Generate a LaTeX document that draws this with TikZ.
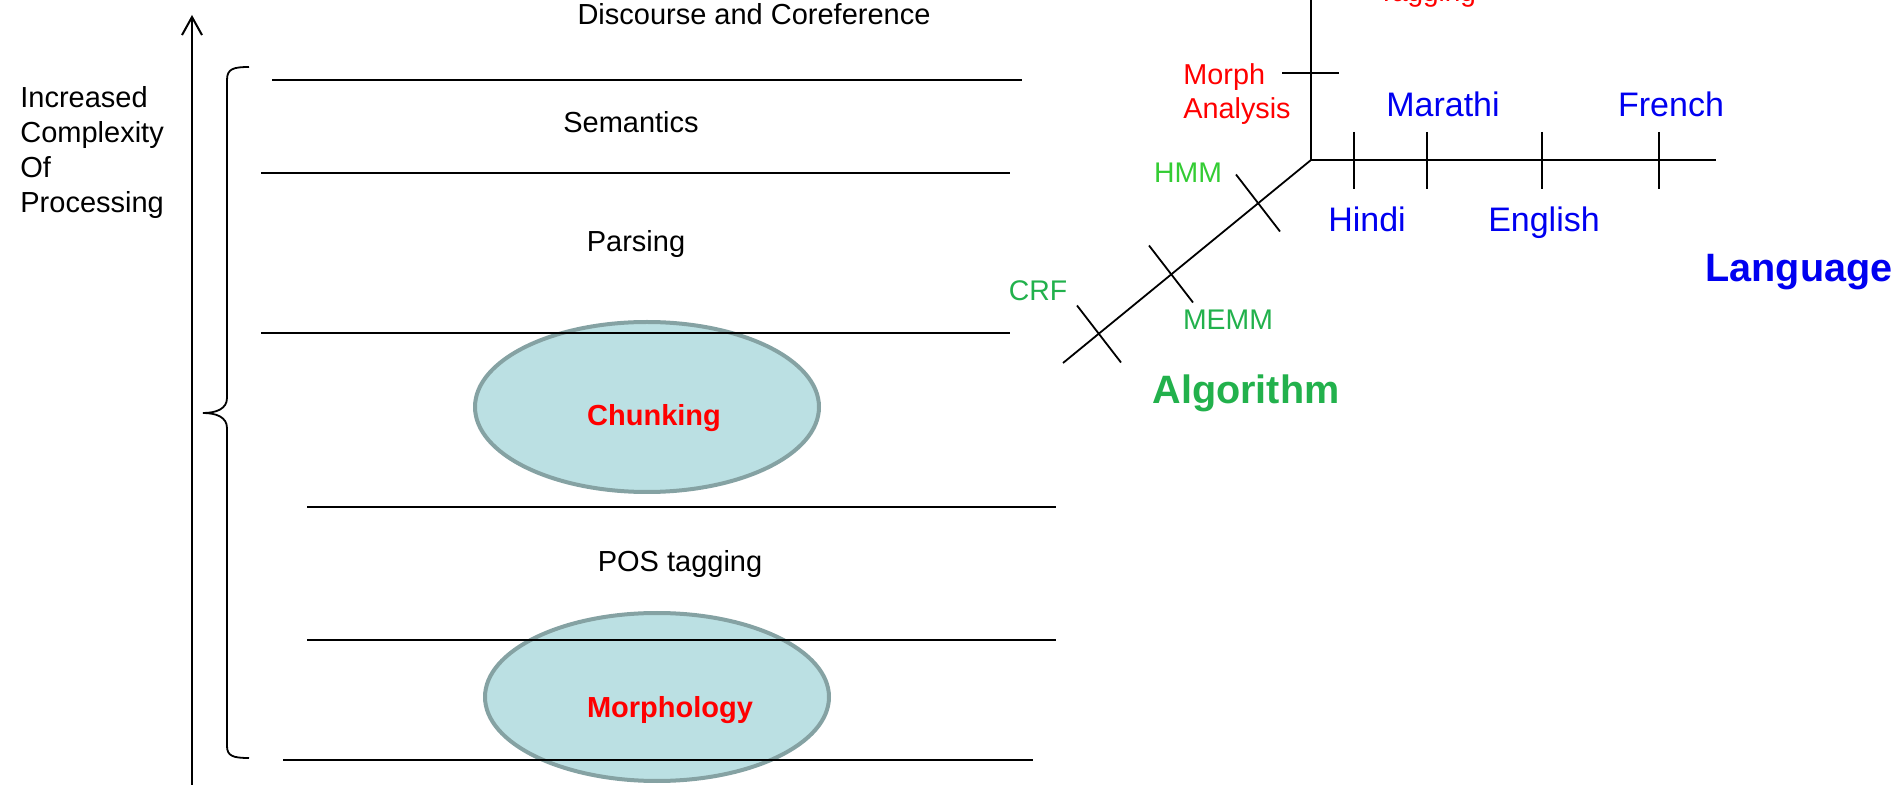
\documentclass[tikz,border=0pt]{standalone}
\usepackage{fontspec}
\setmainfont{Liberation Sans}
\usetikzlibrary{arrows.meta,shapes.geometric}
\definecolor{myred}{RGB}{255,0,0}
\definecolor{myblue}{RGB}{0,0,240}
\definecolor{lgreen}{RGB}{51,204,51}
\definecolor{dgreen}{RGB}{34,177,76}
\definecolor{ellfill}{RGB}{187,224,227}
\definecolor{elldraw}{RGB}{133,162,163}
\begin{document}
\begin{tikzpicture}[x=0.5pt,y=-0.5pt,
  lay/.style={line width=1pt},
  ax/.style={line width=0.9pt},
  txt/.style={inner sep=0pt, anchor=base, font=\fontsize{14.5}{17.5}\selectfont},
  btxt/.style={txt, font=\fontsize{14.5}{17.5}\selectfont\bfseries, text=myred},
  lang/.style={txt, font=\fontsize{17}{20}\selectfont, text=myblue},
  alg/.style={txt, font=\fontsize{14.2}{17}\selectfont, text=dgreen},
  big/.style={txt, font=\fontsize{19.8}{24}\selectfont\bfseries},
  ell/.style={ellipse, draw=elldraw, fill=ellfill, line width=2pt, inner sep=0pt}]
\useasboundingbox (0,0) rectangle (1901,785);

% ellipses (beneath the layer lines)
\node[ell, minimum width=172pt, minimum height=85pt] (chunkE) at (647,407) {};
\node[ell, minimum width=172pt, minimum height=84pt] (morphE) at (657,697) {};

% layer lines
\coordinate (l1a) at (272,80);  \coordinate (l1b) at (1022,80);
\coordinate (l2a) at (261,173); \coordinate (l2b) at (1010,173);
\coordinate (l3a) at (261,333); \coordinate (l3b) at (1010,333);
\coordinate (l4a) at (307,507); \coordinate (l4b) at (1056,507);
\coordinate (l5a) at (307,640); \coordinate (l5b) at (1056,640);
\coordinate (l6a) at (283,760); \coordinate (l6b) at (1033,760);
\draw[lay] (l1a) -- (l1b);
\draw[lay] (l2a) -- (l2b);
\draw[lay] (l3a) -- (l3b);
\draw[lay] (l4a) -- (l4b);
\draw[lay] (l5a) -- (l5b);
\draw[lay] (l6a) -- (l6b);

% layer texts
\node[txt] (disc) at (754,25) {Discourse and Coreference};
\node[txt] (sem) at (631,133) {Semantics};
\node[txt] (pars) at (636,252) {Parsing};
\node[btxt] (chunk) at (654,426) {Chunking};
\node[txt] (pos) at (680,572) {POS tagging};
\node[btxt] (morph) at (670,718) {Morphology};

% vertical arrow
\coordinate (arrB) at (192,790);
\coordinate (arrT) at (192,15);
\draw[line width=1pt, -{Straight Barb[length=9pt,width=10pt,line width=1pt]}] (arrB) -- (arrT);
\node[inner sep=0pt, anchor=north west, align=left, font=\fontsize{14.5}{17.5}\selectfont] (inc) at (20,86) {Increased\\Complexity\\Of\\Processing};

% brace
\coordinate (brT) at (249,67);
\coordinate (brM) at (203,413);
\coordinate (brB) at (249,758);
\draw[line width=0.9pt] (brT) .. controls (233,67) and (227,69) .. (227,80) -- (227,398)
  .. controls (227,409) and (216,413) .. (brM)
  .. controls (216,413) and (227,417) .. (227,428) -- (227,746)
  .. controls (227,756) and (233,758) .. (brB);

% right axes
\coordinate (O) at (1311,160);
\coordinate (vtop) at (1311,-5);
\coordinate (hend) at (1716,160);
\coordinate (dend) at (1063,363);
\draw[ax] (vtop) -- (O) -- (hend);
\draw[ax] (O) -- (dend);
\foreach \x/\n in {1354/a,1427/b,1542/c,1659/d}{
  \coordinate (ht\n1) at (\x,132); \coordinate (ht\n2) at (\x,189);
  \draw[ax] (ht\n1) -- (ht\n2);
}
\coordinate (mt1) at (1282,73); \coordinate (mt2) at (1339,73);
\draw[ax] (mt1) -- (mt2);
\foreach \cx/\cy/\n in {1258/203/a,1171/274/b,1099/334/c}{
  \coordinate (dt\n1) at (\cx-22,\cy-28.5); \coordinate (dt\n2) at (\cx+22,\cy+28.5);
  \draw[ax] (dt\n1) -- (dt\n2);
}

% right texts
\node[txt, font=\fontsize{14}{17}\selectfont, text=myred] (tag) at (1427,2) {Tagging};
\node[inner sep=0pt, anchor=north west, align=left, font=\fontsize{14.4}{17}\selectfont, text=myred] (ma) at (1183,63) {Morph\\Analysis};
\node[lang] (mar) at (1443,117) {Marathi};
\node[lang] (fre) at (1671,117) {French};
\node[lang] (hin) at (1367,232) {Hindi};
\node[lang] (eng) at (1544,232) {English};
\node[big, text=myblue] (langT) at (1799,282) {Language};
\node[alg, text=lgreen] (hmm) at (1188,183) {HMM};
\node[alg] (memm) at (1228,330) {MEMM};
\node[alg] (crf) at (1038,301) {CRF};
\node[big, text=dgreen] (algT) at (1246,404) {Algorithm};
\end{tikzpicture}
\end{document}
